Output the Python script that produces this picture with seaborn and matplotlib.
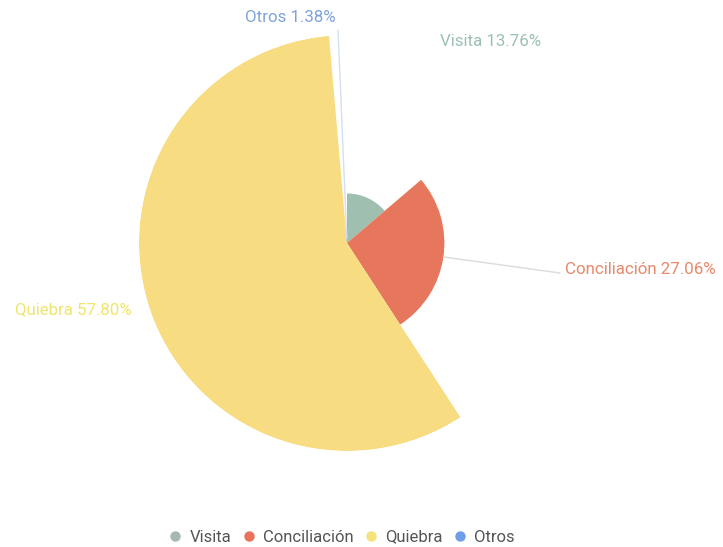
import numpy as np
import matplotlib
matplotlib.use("Agg")
import matplotlib.pyplot as plt
import seaborn as sns
from matplotlib.lines import Line2D

# data
categories = ["Visita", "Conciliación", "Quiebra", "Otros"]
percentages = [13.76, 27.06, 57.80, 1.38]
colors = ["#9fc0b0", "#e6775c", "#f8dc82", "#6c9fee"]
label_colors = ["#9cc0b4", "#e8896a", "#efe56c", "#7ea3da"]

sns.set_theme(style="white")
plt.rcParams["font.family"] = ["Roboto", "DejaVu Sans"]

W, H = 723, 547
fig = plt.figure(figsize=(W / 100, H / 100), dpi=100)

# polar axes centred on the rose, sized to the biggest petal
cx, cy, rmax = 347, 243, 208
ax = fig.add_axes([(cx - rmax) / W, (H - cy - rmax) / H, 2 * rmax / W, 2 * rmax / H],
                  projection="polar")
ax.set_theta_zero_location("N")
ax.set_theta_direction(-1)

fracs = np.array(percentages) / sum(percentages)
widths = fracs * 2 * np.pi
starts = np.concatenate([[0], np.cumsum(widths)[:-1]])
ax.bar(starts, percentages, width=widths, align="edge", color=colors,
       edgecolor="none", linewidth=0)
ax.set_ylim(0, max(percentages))
ax.axis("off")

# labels (positions in figure pixels, measured from top-left)
label_pos = {
    "Visita": (440, 42, "left"),
    "Conciliación": (565, 269, "left"),
    "Quiebra": (15, 310, "left"),
    "Otros": (336, 18, "right"),
}
# only the Conciliación and Otros leader lines show in the original
line_color = {"Conciliación": "#d9dcdc", "Otros": "#d3e0f3"}
for cat, pct, lc, st, wd in zip(categories, percentages, label_colors, starts, widths):
    x, y, ha = label_pos[cat]
    mid = st + wd / 2
    if cat in line_color:
        end_x, ey = (560, y + 4) if cat == "Conciliación" else (338, y + 12)
        ax.annotate("", xy=(mid, pct), xycoords="data",
                    xytext=(end_x / W, 1 - ey / H), textcoords="figure fraction",
                    arrowprops=dict(arrowstyle="-", color=line_color[cat], lw=1,
                                    shrinkA=0, shrinkB=0))
    fig.text(x / W, 1 - y / H, f"{cat} {pct:.2f}%", color=lc, fontsize=12.2,
             ha=ha, va="center")

# legend
handles = [Line2D([0], [0], marker="o", linestyle="none", markersize=7.5,
                  markerfacecolor=c, markeredgecolor="none") for c in
           ["#a6b9af", "#e8725a", "#f5e27a", "#6f9ee8"]]
fig.legend(handles, categories, loc="center", bbox_to_anchor=(341 / W, 1 - 537 / H),
           ncol=4, frameon=False, fontsize=12, handletextpad=0.35,
           columnspacing=0.55, labelcolor="#555555", handlelength=1.0)

fig.savefig("out.png", dpi=100, facecolor="white")
